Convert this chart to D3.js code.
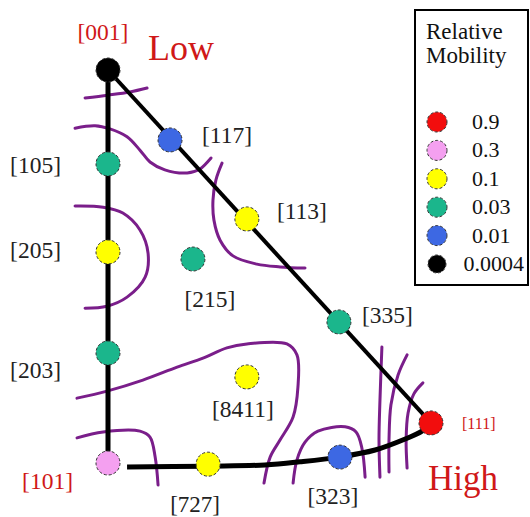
<!DOCTYPE html>
<html>
<head>
<meta charset="utf-8">
<script src="https://cdn.jsdelivr.net/npm/d3@7"></script>
<style>
  body { margin: 0; background: #fff; }
  text { font-family: "Liberation Serif", "Times New Roman", serif; }
</style>
</head>
<body>
<div id="chart"></div>
<script>
// orientations in the standard triangle, positions (0-100 units)
const directions = ["[001]", "[117]", "[105]", "[113]", "[205]", "[215]", "[335]", "[203]", "[8411]", "[111]", "[101]", "[727]", "[323]"];
const posX = [0, 19.2, 0, 43.0, 0, 26.3, 71.5, 0, 43.0, 100, 0, 31.0, 71.8];
const posY = [100, 82.2, 76.1, 62.1, 53.7, 51.9, 35.9, 28.0, 21.9, 10.2, 0, -0.3, 1.5];
const mobility = ["0.0004", "0.01", "0.03", "0.1", "0.1", "0.03", "0.03", "0.03", "0.1", "0.9", "0.3", "0.1", "0.01"];

// legend levels
const levels = ["0.9", "0.3", "0.1", "0.03", "0.01", "0.0004"];

// curved bottom edge [101] -> [111]
const bottomEdge = [[5.9, -1.0], [31.0, -0.8], [48.6, -0.5], [59.4, 0.3], [71.5, 1.5], [82.7, 3.3], [92.0, 6.1], [97.2, 8.1], [100, 10.2]];

// hand drawn iso-mobility contours
const contours = [
  [[-7.1, 92.9], [0, 93.6], [6.8, 94.4], [12.1, 95.4]],
  [[-10.2, 85.2], [-4.0, 85.8], [0.6, 85.0], [5.9, 83.0], [9.9, 79.6], [13.0, 76.6], [17.6, 74.6], [24.5, 73.8], [28.5, 74.8], [31.9, 77.6]],
  [[35.3, 76.3], [33.4, 72.0], [32.5, 66.9], [32.8, 61.8], [34.7, 56.7], [38.7, 52.7], [46.1, 50.6], [53.3, 49.9], [61.0, 49.6]],
  [[-10.2, 65.4], [-1.5, 65.1], [4.6, 63.6], [9.9, 59.3], [12.4, 53.4], [11.5, 47.3], [5.9, 42.2], [-0.3, 39.9], [-7.1, 39.4]],
  [[-9.6, 16.5], [-0.3, 18.3], [10.8, 21.1], [21.4, 24.4], [29.4, 26.7], [36.8, 29.3], [43.0, 30.3], [55.4, 30.3], [58.5, 27.5], [58.8, 19.3], [57.3, 11.7], [53.3, 5.9], [50.2, 1.5], [48.3, -5.1]],
  [[-9.6, 6.4], [-1.5, 7.9], [9.9, 8.1], [13.0, 6.6], [14.6, 1.5], [15.5, -5.6]],
  [[57.3, -5.1], [58.5, 0.8], [61.0, 5.3], [65.0, 8.1], [73.4, 9.2], [76.8, 7.9], [78.6, 3.8], [79.6, -3.6]],
  [[84.8, 29.5], [84.2, 16.0], [83.9, 5.9], [84.2, -3.6]],
  [[92.6, 27.5], [89.8, 22.4], [87.6, 14.8], [87.0, 5.9], [87.0, -2.3]],
  [[97.5, 20.4], [94.7, 17.6], [92.9, 12.7], [92.3, 5.9], [92.6, -1.3]]
];

const W = 530, H = 517;
const svg = d3.select("#chart").append("svg").attr("width", W).attr("height", H);

const x = d3.scaleLinear().domain([0, 100]).range([108, 431]);
const y = d3.scaleLinear().domain([0, 100]).range([463, 70]);

const color = d3.scaleOrdinal()
  .domain(levels)
  .range(["#f20d0d", "#f4a0f0", "#ffff00", "#1bb68c", "#3d68e3", "#000000"]);

const pts = directions.map((d, i) => ({ name: d, x: posX[i], y: posY[i], m: mobility[i] }));
const byName = {};
pts.forEach(p => byName[p.name] = p);

const curve = d3.line().x(d => x(d[0])).y(d => y(d[1])).curve(d3.curveCatmullRom.alpha(0.5));

// contours
svg.append("g")
  .selectAll("path")
  .data(contours)
  .enter()
  .append("path")
  .attr("d", curve)
  .attr("fill", "none")
  .attr("stroke", "#7a1e8a")
  .attr("stroke-width", 3)
  .attr("stroke-linecap", "round");

// triangle edges
const p001 = byName["[001]"], p101 = byName["[101]"], p111 = byName["[111]"];
svg.append("line")
  .attr("x1", x(p001.x)).attr("y1", y(p001.y))
  .attr("x2", x(p101.x)).attr("y2", y(p101.y))
  .attr("stroke", "#000").attr("stroke-width", 5);
svg.append("line")
  .attr("x1", x(p001.x)).attr("y1", y(p001.y))
  .attr("x2", x(p111.x)).attr("y2", y(p111.y))
  .attr("stroke", "#000").attr("stroke-width", 4);
svg.append("path")
  .attr("d", curve(bottomEdge))
  .attr("fill", "none")
  .attr("stroke", "#000")
  .attr("stroke-width", 5);

// dots
svg.append("g")
  .selectAll("circle")
  .data(pts)
  .enter()
  .append("circle")
  .attr("cx", d => x(d.x))
  .attr("cy", d => y(d.y))
  .attr("r", 12)
  .attr("fill", d => color(d.m))
  .attr("stroke", "#333")
  .attr("stroke-width", 1)
  .attr("stroke-dasharray", "3,2");

// labels: [dx, dy, anchor, size, colour]
const labelStyle = {
  "[001]": [-5, -30, "middle", 23.5, "#d01818"],
  "[117]": [32, 3, "start", 23.5, "#222"],
  "[105]": [-47, 9, "end", 23.5, "#222"],
  "[113]": [30, 0, "start", 23.5, "#222"],
  "[205]": [-47, 6, "end", 23.5, "#222"],
  "[215]": [17, 48, "middle", 23.5, "#222"],
  "[335]": [23, 1, "start", 23.5, "#222"],
  "[203]": [-47, 25, "end", 23.5, "#222"],
  "[8411]": [-4, 40, "middle", 23.5, "#222"],
  "[111]": [31, 6, "start", 16, "#d01818"],
  "[101]": [-35, 26, "end", 23.5, "#d01818"],
  "[727]": [-13, 48, "middle", 23, "#222"],
  "[323]": [-7, 47, "middle", 23.5, "#222"]
};

svg.append("g")
  .selectAll("text")
  .data(pts)
  .enter()
  .append("text")
  .attr("x", d => x(d.x) + labelStyle[d.name][0])
  .attr("y", d => y(d.y) + labelStyle[d.name][1])
  .attr("text-anchor", d => labelStyle[d.name][2])
  .style("font-size", d => labelStyle[d.name][3] + "px")
  .attr("fill", d => labelStyle[d.name][4])
  .text(d => d.name);

svg.append("text")
  .attr("x", x(p001.x) + 40).attr("y", y(p001.y) - 10)
  .style("font-size", "36px").attr("fill", "#d01818")
  .text("Low");
svg.append("text")
  .attr("x", x(p111.x) - 3).attr("y", y(p111.y) + 67)
  .style("font-size", "35px").attr("fill", "#d01818")
  .text("High");

// legend
const lg = svg.append("g");
const boxL = 415, boxT = 10, boxR = 528, boxB = 285;
lg.append("rect")
  .attr("x", boxL).attr("y", boxT)
  .attr("width", boxR - boxL).attr("height", boxB - boxT)
  .attr("fill", "#fff").attr("stroke", "#000").attr("stroke-width", 2);
lg.append("text").attr("x", 426).attr("y", 39).style("font-size", "23px").attr("fill", "#111").text("Relative");
lg.append("text").attr("x", 426).attr("y", 63).style("font-size", "23px").attr("fill", "#111").text("Mobility");

const ly = d3.scalePoint().domain(levels).range([122, 264]);
const items = lg.selectAll("g.item").data(levels).enter().append("g").attr("class", "item");
items.append("circle")
  .attr("cx", 437)
  .attr("cy", d => ly(d))
  .attr("r", d => d === "0.0004" ? 9 : 10)
  .attr("fill", d => color(d))
  .attr("stroke", "#333")
  .attr("stroke-width", 1)
  .attr("stroke-dasharray", "3,2");
items.append("text")
  .attr("x", 472)
  .attr("y", d => ly(d) + 7)
  .style("font-size", "22px")
  .attr("fill", "#111")
  .text(d => d)
  .each(function () {
    const w = this.getComputedTextLength();
    if (472 + w > boxR - 4) d3.select(this).attr("x", boxR - 4 - w);
  });
</script>
</body>
</html>
